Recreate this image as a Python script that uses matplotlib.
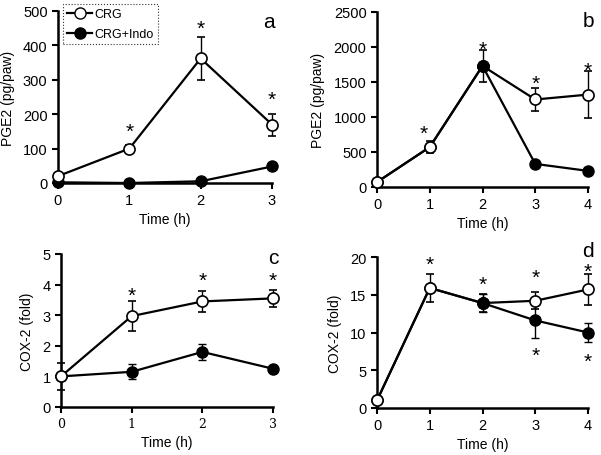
import matplotlib
matplotlib.use("Agg")
import matplotlib.pyplot as plt
import numpy as np

# panel a: PGE2, 0-3 h
a_t = [0, 1, 2, 3]
a_crg = [20, 100, 362, 170]
a_crg_err = [0, 10, 63, 32]
a_indo = [2, 0, 5, 48]
a_indo_err = [0, 0, 0, 0]
a_stars_x = [1, 2, 3]
a_stars_y = [157, 456, 250]

# panel b: PGE2, 0-4 h
b_t = [0, 1, 2, 3, 4]
b_crg = [70, 570, 1730, 1250, 1320]
b_crg_err = [0, 85, 230, 160, 330]
b_indo = [70, 570, 1730, 330, 230]
b_indo_err = [0, 0, 0, 0, 0]
b_stars_x = [0.88, 2, 3, 4]
b_stars_y = [790, 2000, 1515, 1700]

# panel c: COX-2 fold, 0-3 h
c_t = [0, 1, 2, 3]
c_crg = [1.0, 2.97, 3.45, 3.55]
c_crg_err = [0.45, 0.5, 0.33, 0.27]
c_indo = [1.0, 1.15, 1.8, 1.25]
c_indo_err = [0, 0.25, 0.25, 0]
c_stars_x = [1, 2, 3]
c_stars_y = [3.73, 4.2, 4.2]

# panel d: COX-2 fold, 0-4 h
d_t = [0, 1, 2, 3, 4]
d_crg = [1.0, 15.9, 13.9, 14.2, 15.7]
d_crg_err = [0, 1.8, 1.2, 1.1, 2.0]
d_indo = [1.0, 15.9, 13.9, 11.6, 10.0]
d_indo_err = [0, 0, 1.2, 2.3, 1.3]
d_stars_x = [1, 2, 3, 3, 4, 4]
d_stars_y = [19.3, 16.7, 17.6, 7.3, 18.4, 6.5]

plt.rcParams["font.family"] = ["Liberation Sans", "DejaVu Sans"]

W, H = 601, 456
fig = plt.figure(figsize=(W / 100, H / 100), dpi=100)


def box(l, r, t, b):
    return [l / W, 1 - b / H, (r - l) / W, (b - t) / H]


def panel(rect, t, crg, crg_err, indo, indo_err, ylim, yticks, ylabel,
          sx, sy, letter, letter_xy, serif_x=False, indo_top=()):
    ax = fig.add_axes(rect)
    ax.errorbar(t, indo, yerr=indo_err, color="black", lw=1.6,
                marker="o", ms=8, mfc="black", mec="black",
                capsize=3, elinewidth=1, zorder=3, clip_on=False)
    ax.errorbar(t, crg, yerr=crg_err, color="black", lw=1.6,
                marker="o", ms=8, mfc="white", mec="black", mew=1.2,
                capsize=3, elinewidth=1, zorder=4, clip_on=False)
    # filled points that sit on top of the open ones
    for i in indo_top:
        ax.plot([t[i]], [indo[i]], marker="o", ms=8, color="black",
                zorder=5, clip_on=False)
    for x, y in zip(sx, sy):
        ax.text(x, y, "*", ha="center", va="center_baseline", fontsize=15,
                zorder=6)
    ax.set_xlim(0, t[-1])
    ax.set_ylim(*ylim)
    ax.set_yticks(yticks)
    ax.set_xticks(t)
    for sp in ("top", "right"):
        ax.spines[sp].set_visible(False)
    for sp in ("left", "bottom"):
        ax.spines[sp].set_linewidth(1.8)
    ax.tick_params(direction="out", length=4, width=1.5, labelsize=10.5)
    if serif_x:
        for lab in ax.get_xticklabels():
            lab.set_family("DejaVu Serif")
            lab.set_fontsize(9)
    ax.set_xlabel("Time (h)", fontsize=10, labelpad=3)
    ax.set_ylabel(ylabel, fontsize=10, labelpad=6)
    ax.text(letter_xy[0], letter_xy[1], letter, transform=ax.transAxes,
            ha="center", va="center", fontsize=15)
    return ax


ax_a = panel(box(58, 272, 12, 184), a_t, a_crg, a_crg_err, a_indo, a_indo_err,
             (0, 500), [0, 100, 200, 300, 400, 500], "PGE2 (pg/paw)",
             a_stars_x, a_stars_y, "a", (0.985, 0.94))
ax_b = panel(box(377, 588, 13, 188), b_t, b_crg, b_crg_err, b_indo, b_indo_err,
             (0, 2500), [0, 500, 1000, 1500, 2000, 2500], "PGE2 (pg/paw)",
             b_stars_x, b_stars_y, "b", (1.0, 0.95), indo_top=(2,))
ax_c = panel(box(61, 273, 255, 408), c_t, c_crg, c_crg_err, c_indo, c_indo_err,
             (0, 5), [0, 1, 2, 3, 4, 5], "COX-2 (fold)",
             c_stars_x, c_stars_y, "c", (1.0, 0.98), serif_x=True)
ax_d = panel(box(377, 588, 258, 409), d_t, d_crg, d_crg_err, d_indo, d_indo_err,
             (0, 20), [0, 5, 10, 15, 20], "COX-2 (fold)",
             d_stars_x, d_stars_y, "d", (1.0, 1.045), indo_top=(2,))

h1, = ax_a.plot([], [], color="black", lw=1.6, marker="o", ms=8,
                mfc="white", mec="black")
h2, = ax_a.plot([], [], color="black", lw=1.6, marker="o", ms=8,
                mfc="black", mec="black")
leg = ax_a.legend([h1, h2], ["CRG", "CRG+Indo"], loc="upper left",
                  bbox_to_anchor=(0.01, 1.055), fontsize=9, handlelength=2.0,
                  borderpad=0.35, labelspacing=0.6, handletextpad=0.2,
                  borderaxespad=0.2, fancybox=False, edgecolor="black")
leg.get_frame().set_linestyle(":")
leg.get_frame().set_linewidth(0.8)

fig.savefig("out.png", dpi=100)
